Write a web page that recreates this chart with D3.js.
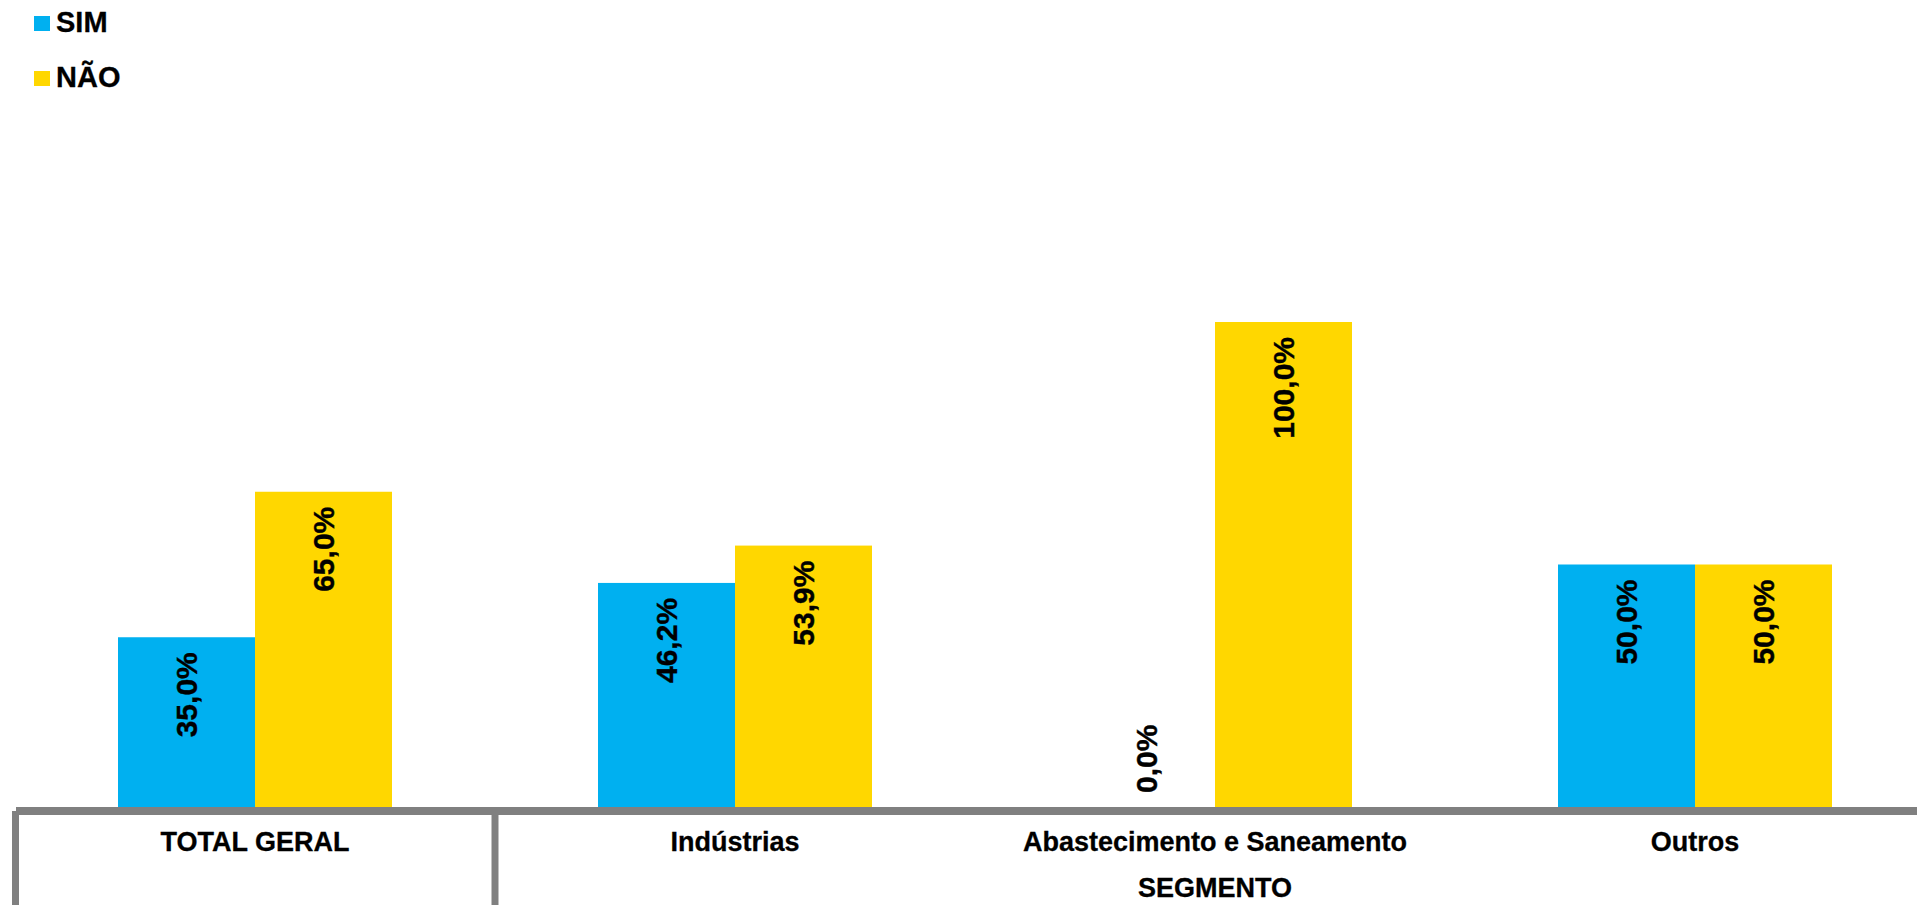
<!DOCTYPE html>
<html>
<head>
<meta charset="utf-8">
<script src="https://cdn.jsdelivr.net/npm/d3@7"></script>
<style>
  body { margin: 0; background: #fff; }
  svg { display: block; font-family: "Liberation Sans", Arial, sans-serif; font-weight: bold; }
</style>
</head>
<body>
<svg id="chart"></svg>
<script>
const width = 1917;
const height = 905;

// data
const categories = ["TOTAL GERAL", "Indústrias", "Abastecimento e Saneamento", "Outros"];
const seriesNames = ["SIM", "NÃO"];
const simValues = [35.0, 46.2, 0.0, 50.0];
const naoValues = [65.0, 53.9, 100.0, 50.0];
const seriesColors = ["#00B0F0", "#FFD700"];
const groupLabel = "SEGMENTO";

const axis_color = "#808080";
const baseline = 811;

var svg = d3.select("#chart").attr("width", width).attr("height", height);

var x0 = d3.scaleBand().domain(categories).range([15, 1935]).padding(0);
var x1 = d3.scaleBand().domain(seriesNames).range([103, x0.bandwidth() - 103]).padding(0);
var y = d3.scaleLinear().domain([0, 100]).range([807, 322]);

var rows = categories.map((c, i) => ({ cat: c, values: [simValues[i], naoValues[i]] }));

const fmt = (v) => d3.format(".1f")(v).replace(".", ",") + "%";

var group = svg.append("g").selectAll("g")
  .data(rows)
  .enter().append("g")
  .attr("transform", (d) => `translate(${x0(d.cat)},0)`);

group.selectAll("rect")
  .data((d) => d.values.map((v, j) => ({ s: seriesNames[j], v: v, j: j })))
  .enter().append("rect")
  .attr("x", (d) => x1(d.s))
  .attr("width", x1.bandwidth())
  .attr("y", (d) => y(d.v))
  .attr("height", (d) => y(0) - y(d.v))
  .style("fill", (d) => seriesColors[d.j]);

// value labels, rotated, inside end
group.selectAll("text.val")
  .data((d) => d.values.map((v, j) => ({ s: seriesNames[j], v: v })))
  .enter().append("text")
  .attr("class", "val")
  .attr("transform", (d) => {
    var cx = x1(d.s) + x1.bandwidth() / 2;
    var ty = d.v > 0 ? y(d.v) + 15 : y(0) - 14;
    return `translate(${cx},${ty}) rotate(-90)`;
  })
  .attr("text-anchor", (d) => d.v > 0 ? "end" : "start")
  .attr("dominant-baseline", "central")
  .style("font-size", "30px")
  .style("fill", "#000")
  .style("stroke", "#000").style("stroke-width", 0.4)
  .text((d) => fmt(d.v));

// axis lines
svg.append("line")
  .attr("x1", 16).attr("x2", width)
  .attr("y1", baseline).attr("y2", baseline)
  .style("stroke", axis_color).style("stroke-width", 8);

[15.5, x0(categories[1])].forEach((xv) => {
  svg.append("line")
    .attr("x1", xv).attr("x2", xv)
    .attr("y1", baseline).attr("y2", height)
    .style("stroke", axis_color).style("stroke-width", 7);
});

// category labels
svg.append("g").selectAll("text")
  .data(categories)
  .enter().append("text")
  .attr("x", (d) => x0(d) + x0.bandwidth() / 2)
  .attr("y", 851)
  .attr("text-anchor", "middle")
  .style("font-size", "27px")
  .style("stroke", "#000").style("stroke-width", 0.3)
  .text((d) => d);

svg.append("text")
  .attr("x", (x0(categories[1]) + x0(categories[3]) + x0.bandwidth()) / 2)
  .attr("y", 897)
  .attr("text-anchor", "middle")
  .style("font-size", "27px")
  .style("stroke", "#000").style("stroke-width", 0.3)
  .text(groupLabel);

// legend
var legend = svg.append("g").selectAll("g")
  .data(seriesNames)
  .enter().append("g")
  .attr("transform", (d, i) => `translate(34,${16 + i * 55})`);

legend.append("rect")
  .attr("width", 16).attr("height", 15)
  .style("fill", (d, i) => seriesColors[i]);

legend.append("text")
  .attr("x", 22).attr("y", 16)
  .style("font-size", "29px")
  .style("stroke", "#000").style("stroke-width", 0.3)
  .text((d) => d);
</script>
</body>
</html>
